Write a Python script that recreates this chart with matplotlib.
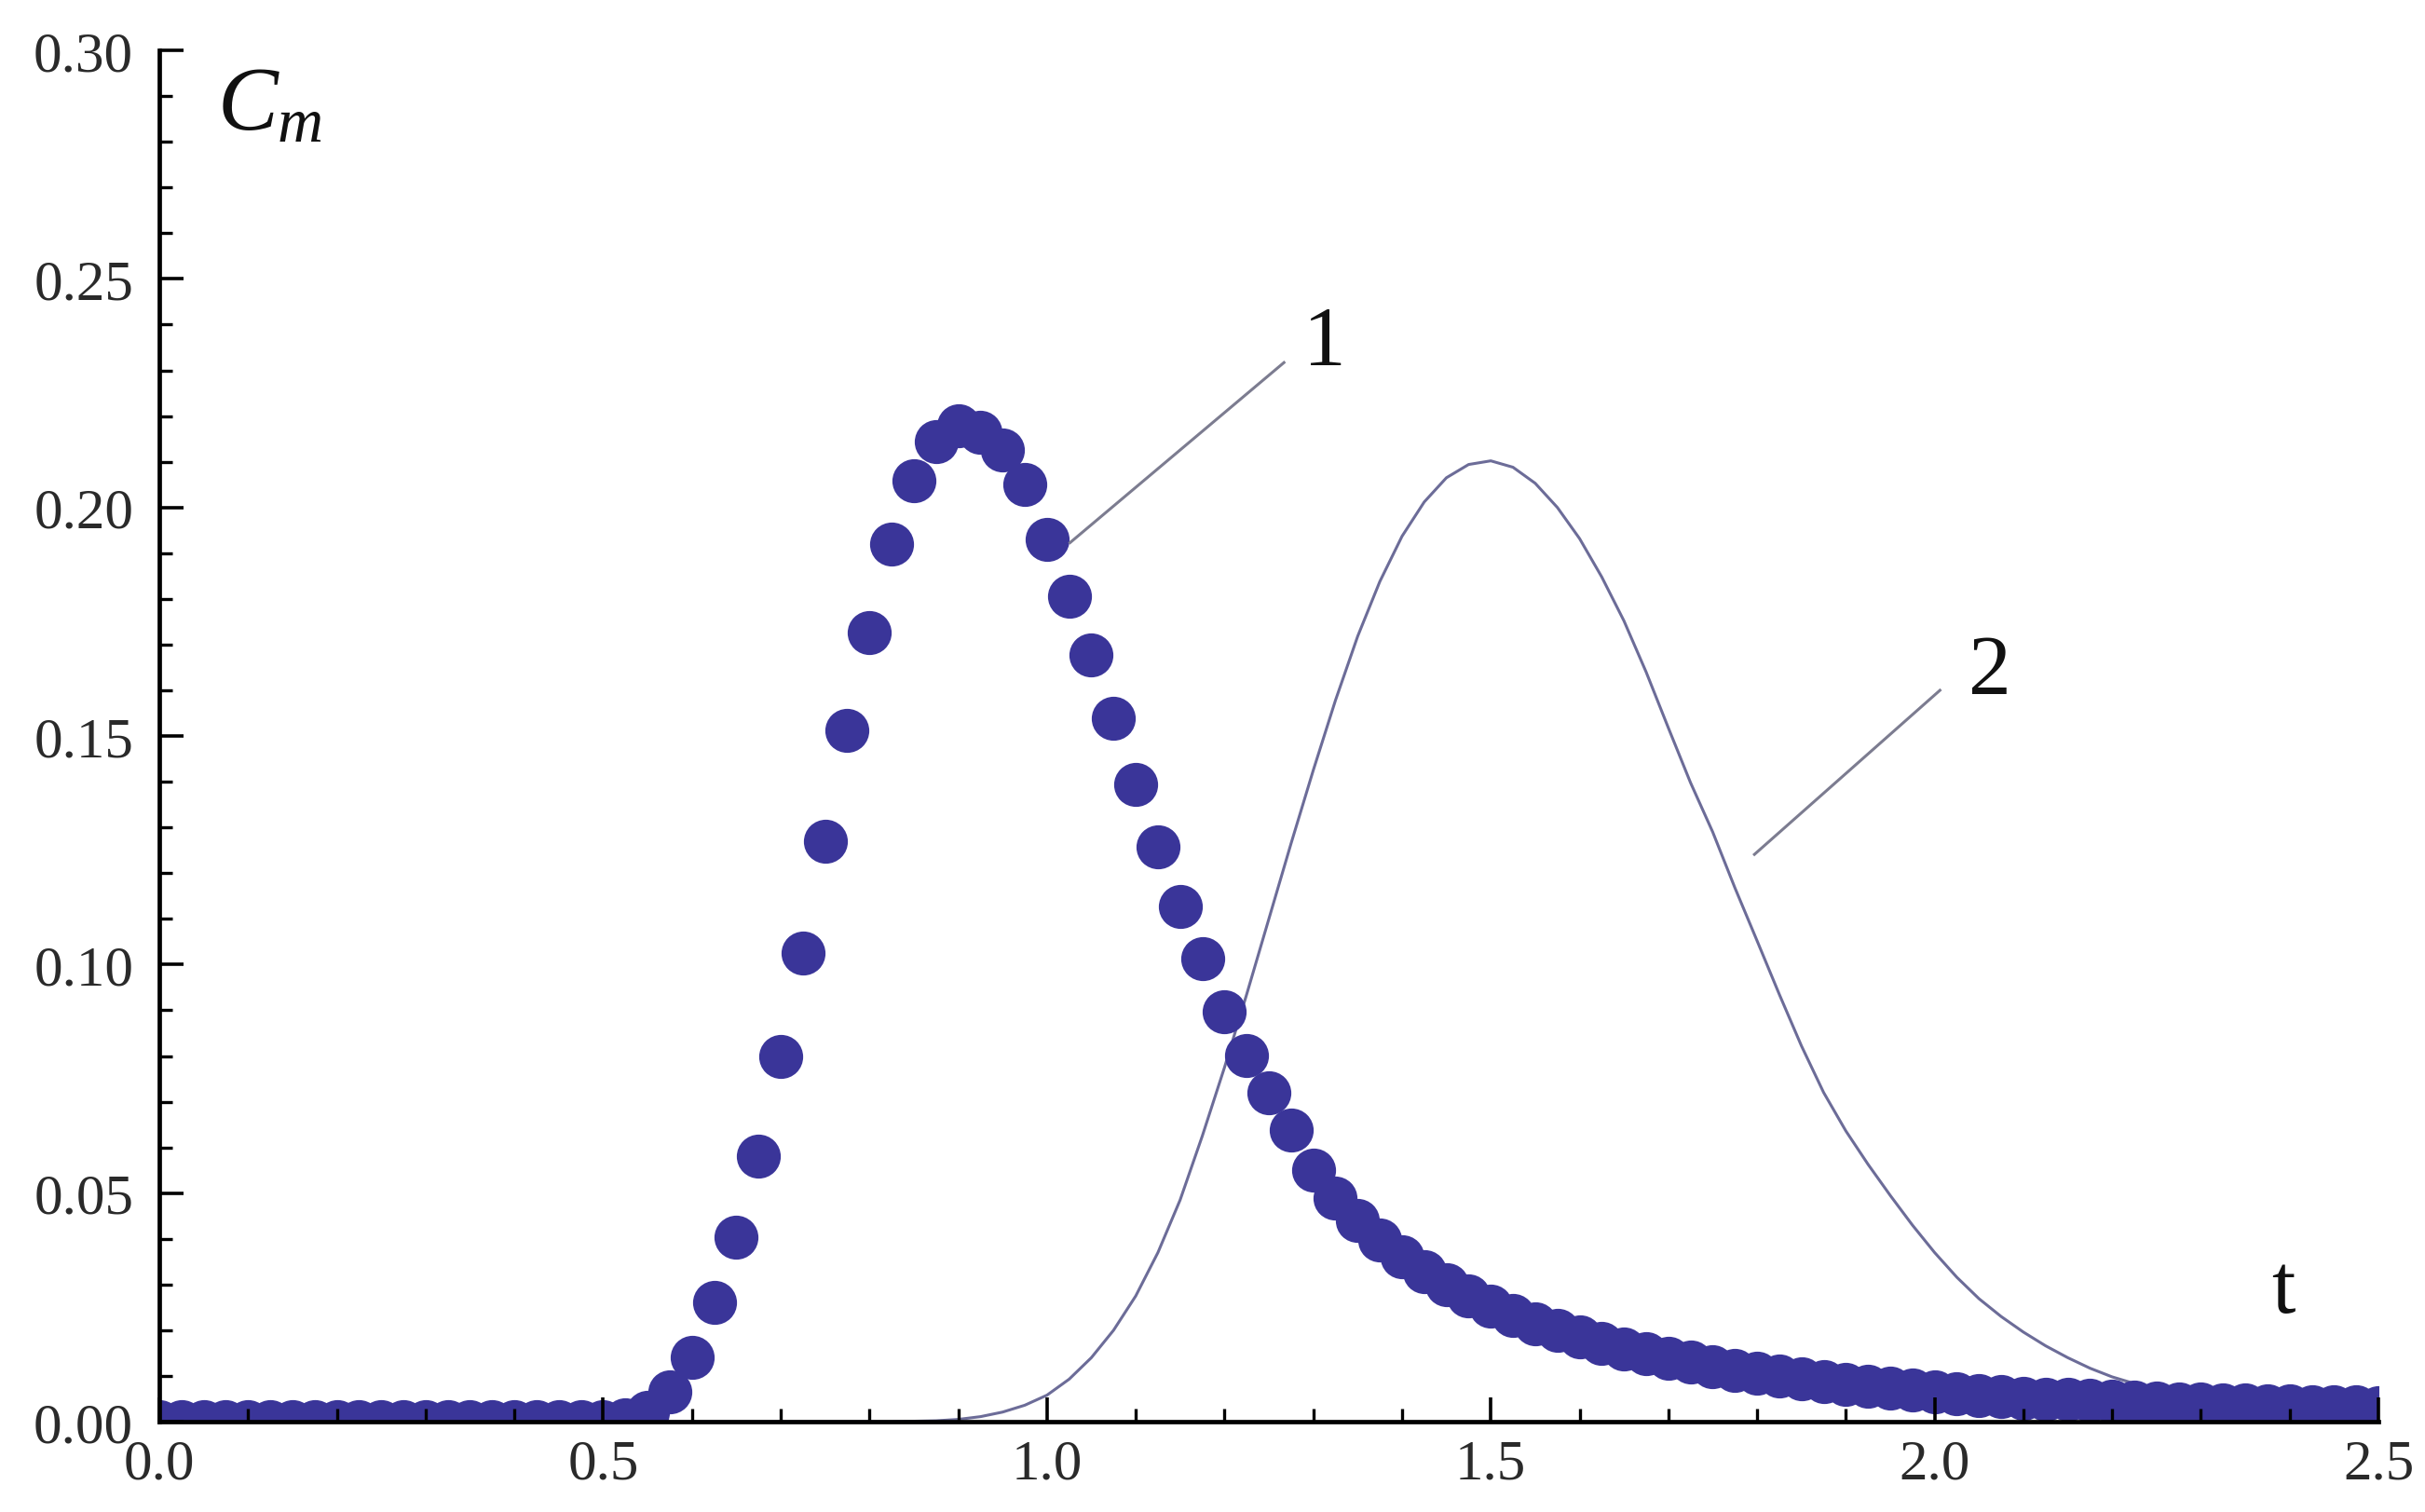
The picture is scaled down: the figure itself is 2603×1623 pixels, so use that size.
import numpy as np
import matplotlib
matplotlib.use("Agg")
from matplotlib import pyplot as plt
from matplotlib.ticker import MultipleLocator, FormatStrFormatter

# серия 1 (точки), шаг 0.025
t1 = np.arange(0, 101) * 0.025
c1 = [0.0] * 21 + [
    0.0005, 0.0020, 0.0065, 0.0140, 0.0260, 0.0404, 0.0581, 0.0800,
    0.1026, 0.1270, 0.1512, 0.1727, 0.1919, 0.2059, 0.2145, 0.2179,
    0.2164, 0.2126, 0.2051, 0.1931, 0.1805, 0.1677, 0.1539, 0.1395,
    0.1257, 0.1127, 0.1014, 0.0897, 0.0801, 0.0720, 0.0638, 0.0551,
    0.0490, 0.0440, 0.0398, 0.0360, 0.0328, 0.0300, 0.0275, 0.0253,
    0.0233, 0.0215, 0.0199, 0.0185, 0.0172, 0.0160, 0.0149, 0.0139,
    0.0130, 0.0121, 0.0113, 0.0106, 0.0099, 0.0093, 0.0087, 0.0082,
    0.0077, 0.0073, 0.0069, 0.0065, 0.0061, 0.0058, 0.0055, 0.0052,
    0.0050, 0.0048, 0.0046, 0.0044, 0.0042, 0.0041, 0.0039, 0.0038,
    0.0037, 0.0036, 0.0035, 0.0034, 0.0033, 0.0033, 0.0032, 0.0031,
]

# серия 2 (линия)
t2 = [0.0, 0.8, 0.825, 0.85, 0.875, 0.9, 0.925, 0.95, 0.975,
      1.0, 1.025, 1.05, 1.075, 1.1, 1.125, 1.15, 1.175,
      1.2, 1.225, 1.25, 1.275, 1.3, 1.325, 1.35, 1.375,
      1.4, 1.425, 1.45, 1.475, 1.5, 1.525, 1.55, 1.575,
      1.6, 1.625, 1.65, 1.675, 1.7, 1.725, 1.75, 1.775,
      1.8, 1.825, 1.85, 1.875, 1.9, 1.925, 1.95, 1.975,
      2.0, 2.025, 2.05, 2.075, 2.1, 2.125, 2.15, 2.175,
      2.2, 2.25, 2.3, 2.35, 2.4, 2.45, 2.5]
c2 = [0.0, 0.0, 0.0, 0.0001, 0.0002, 0.0005, 0.0011, 0.0021, 0.0036,
      0.0058, 0.0093, 0.0140, 0.0200, 0.0275, 0.0370, 0.0485, 0.0625,
      0.0775, 0.0935, 0.1100, 0.1265, 0.1425, 0.1578, 0.1718, 0.1838,
      0.1937, 0.2012, 0.2065, 0.2094, 0.2102, 0.2088, 0.2053, 0.2000,
      0.1932, 0.1848, 0.1752, 0.1640, 0.1518, 0.1398, 0.1290, 0.1168,
      0.1052, 0.0935, 0.0822, 0.0720, 0.0636, 0.0563, 0.0495, 0.0430,
      0.0370, 0.0316, 0.0269, 0.0230, 0.0196, 0.0166, 0.0140, 0.0117,
      0.0098, 0.0069, 0.0049, 0.0035, 0.0025, 0.0018, 0.0013]

xticks = [0.0, 0.5, 1.0, 1.5, 2.0, 2.5]
yticks = [0.00, 0.05, 0.10, 0.15, 0.20, 0.25, 0.30]

# подписи кривых и выноски
labels = ["1", "2"]
label_pos = [(1.313, 0.2358), (2.062, 0.1640)]
leader_from = [(1.026, 0.1923), (1.797, 0.1241)]
leader_to = [(1.267, 0.2317), (2.006, 0.1600)]

plt.rcParams['font.family'] = ['Liberation Serif', 'DejaVu Serif']
plt.rcParams['mathtext.fontset'] = 'custom'
plt.rcParams['mathtext.rm'] = 'Liberation Serif'
plt.rcParams['mathtext.it'] = 'Liberation Serif:italic'

fig = plt.figure(figsize=(26.03, 16.24), dpi=100)
ax = fig.add_axes([0.0657, 0.0597, 0.9151, 0.9064])

dot_color = '#3a3599'
line_color = '#6c6c98'
lead_color = '#7c7c90'

ax.plot(t2, c2, '-', color=line_color, lw=2.2, zorder=2)
ax.plot(t1, c1, 'o', color=dot_color, ms=34, mew=0, zorder=2)

for lab, (lx, ly), p0, p1 in zip(labels, label_pos, leader_from, leader_to):
    ax.plot([p0[0], p1[0]], [p0[1], p1[1]], '-', color=lead_color, lw=2.2)
    ax.text(lx, ly, lab, fontsize=66, ha='center', va='center', color='#111111')

ax.text(0.065, 0.2829, r'$C_m$', fontsize=70, ha='left', va='baseline', color='#111111')
ax.text(2.393, 0.0285, 't', fontsize=66, ha='center', va='center', color='#111111')

ax.set_xlim(0, 2.5)
ax.set_ylim(0, 0.30)
ax.set_xticks(xticks)
ax.set_yticks(yticks)
ax.xaxis.set_minor_locator(MultipleLocator(0.1))
ax.yaxis.set_minor_locator(MultipleLocator(0.01))
ax.xaxis.set_major_formatter(FormatStrFormatter('%.1f'))
ax.yaxis.set_major_formatter(FormatStrFormatter('%.2f'))

for s in ['top', 'right']:
    ax.spines[s].set_visible(False)
for s in ['left', 'bottom']:
    ax.spines[s].set_linewidth(3.4)
    ax.spines[s].set_color('black')

ax.set_axisbelow(False)
ax.tick_params(which='major', direction='in', length=19, width=2.6,
               labelsize=44, labelcolor='#2a2a2a')
ax.tick_params(which='minor', direction='in', length=10, width=2.4)
ax.tick_params(axis='x', which='major', pad=13)
ax.tick_params(axis='y', which='major', pad=20)
ax.tick_params(top=False, right=False, which='both')

fig.savefig('out.png', dpi=100, facecolor='white')
